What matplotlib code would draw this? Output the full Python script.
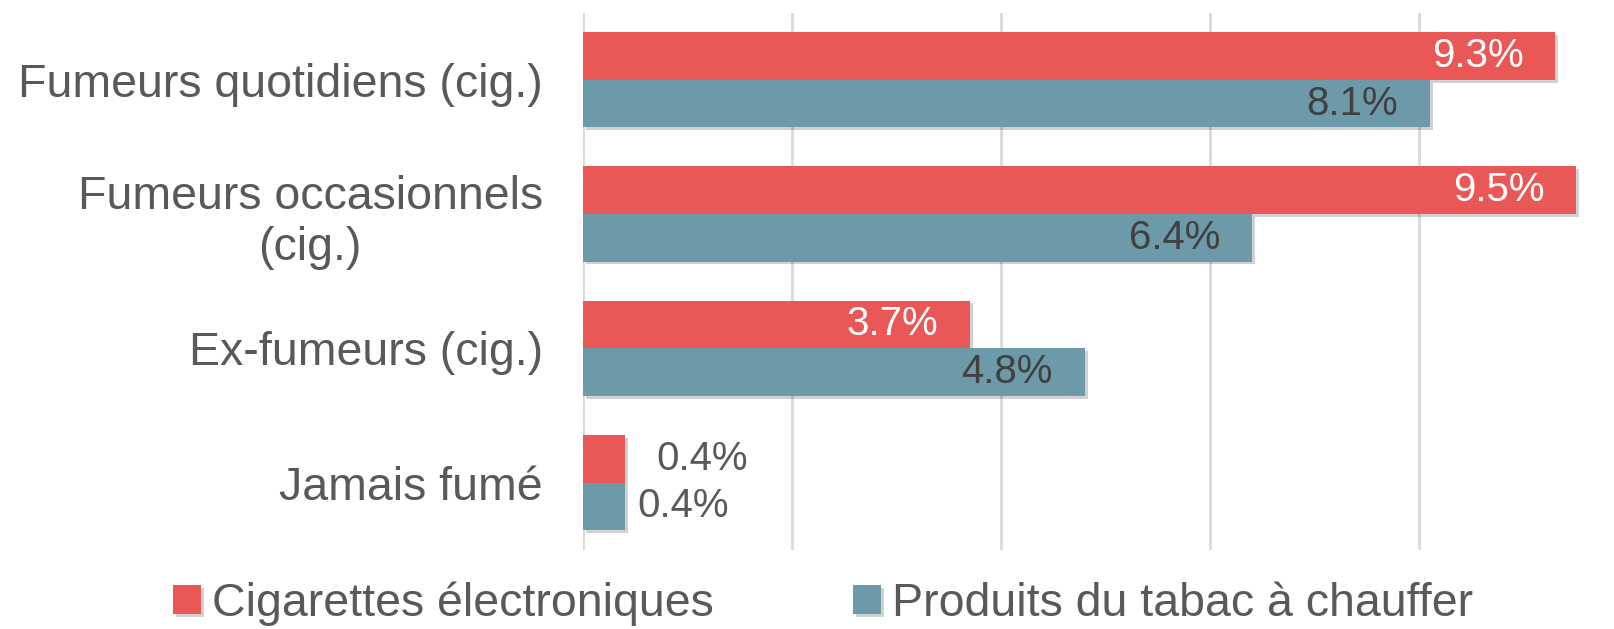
import matplotlib.pyplot as plt
import matplotlib.patheffects as pe
import numpy as np

plt.rcParams['font.family'] = ['Liberation Sans', 'DejaVu Sans']

categories = ['Fumeurs quotidiens (cig.)', 'Fumeurs occasionnels\n(cig.)',
              'Ex-fumeurs (cig.)', 'Jamais fumé']
series_names = ['Cigarettes électroniques', 'Produits du tabac à chauffer']
ecig = [9.3, 9.5, 3.7, 0.4]
tabac = [8.1, 6.4, 4.8, 0.4]

red = '#E95756'
blue = '#6D9AA9'
grey = '#595959'

fig = plt.figure(figsize=(16.14, 6.29), dpi=100)
ax = fig.add_axes([0.3612, 0.126, 0.6283, 0.854])

y = np.arange(len(categories))
h = 0.355
shadow = [pe.SimplePatchShadow(offset=(2, -2), alpha=0.18, shadow_rgbFace='k'), pe.Normal()]

b1 = ax.barh(y - h / 2, ecig, height=h, color=red, label=series_names[0], zorder=3)
b2 = ax.barh(y + h / 2, tabac, height=h, color=blue, label=series_names[1], zorder=3)
for bar in list(b1) + list(b2):
    bar.set_path_effects(shadow)

# value labels: inside end of the bar, outside for the tiny ones
for i, v in enumerate(ecig):
    if v < 1:
        ax.annotate(f'{v}%', (v, i - h / 2), xytext=(23, 0), textcoords='offset points',
                    ha='left', va='center', fontsize=29, color=grey, zorder=4)
    else:
        ax.annotate(f'{v}%', (v, i - h / 2), xytext=(-23, 0), textcoords='offset points',
                    ha='right', va='center', fontsize=29, color='white', zorder=4)
for i, v in enumerate(tabac):
    if v < 1:
        ax.annotate(f'{v}%', (v, i + h / 2), xytext=(9, 0), textcoords='offset points',
                    ha='left', va='center', fontsize=29, color=grey, zorder=4)
    else:
        ax.annotate(f'{v}%', (v, i + h / 2), xytext=(-23, 0), textcoords='offset points',
                    ha='right', va='center', fontsize=29, color='#404040', zorder=4)

ax.set_xlim(0, 9.7)
ax.set_ylim(len(categories) - 0.5, -0.5)
ax.set_xticks([0, 2, 4, 6, 8])
ax.set_xticklabels([])
ax.tick_params(axis='x', length=0)
ax.grid(axis='x', color='#D9D9D9', linewidth=2, zorder=0)

ax.set_yticks(y)
ax.set_yticklabels(categories, fontsize=33.5, color=grey)
for lab in ax.get_yticklabels():
    lab.set_multialignment('center')
ax.tick_params(axis='y', length=0, pad=29)

for s in ax.spines.values():
    s.set_visible(False)

fig.legend(loc='center', bbox_to_anchor=(0.51, 0.04), ncol=2, frameon=False,
           fontsize=33.5, labelcolor=grey, handlelength=0.6, handleheight=0.6,
           handletextpad=0.24, columnspacing=3.0, borderaxespad=0)

fig.savefig('out.png', dpi=100)
